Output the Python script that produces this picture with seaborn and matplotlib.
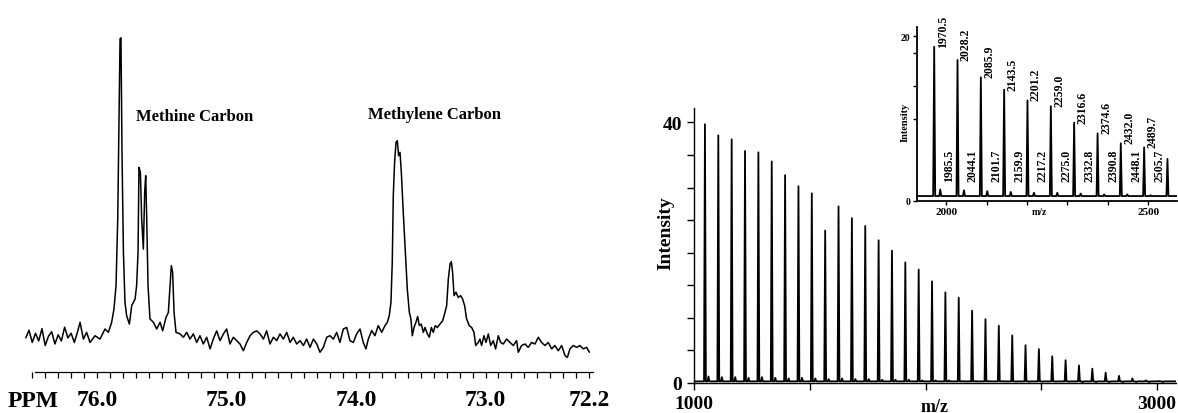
import matplotlib
matplotlib.use("Agg")
import matplotlib.pyplot as plt
import seaborn as sns
import pandas as pd
from matplotlib.ticker import FixedLocator, MultipleLocator

sns.set_style("ticks")
plt.rcParams["font.family"] = ["Liberation Serif", "DejaVu Serif"]
plt.rcParams["font.weight"] = "bold"
plt.rcParams["axes.labelweight"] = "bold"
for k in ["text.color", "axes.labelcolor", "xtick.color", "ytick.color", "axes.edgecolor"]:
    plt.rcParams[k] = "black"

# ---------------- 13C NMR spectrum (ppm, relative intensity) ----------------
nmr_left_baseline = [
    (76.55, 2.0), (76.525, 4.5), (76.50, 0.5), (76.475, 3.5), (76.45, 1.0), (76.425, 5.0),
    (76.40, -0.5), (76.375, 2.5), (76.35, 4.0), (76.325, 0.0), (76.30, 3.0), (76.275, 1.0),
    (76.25, 5.5), (76.225, 2.0), (76.20, 3.5), (76.175, 0.5), (76.15, 4.0),
]
nmr_methine = [
    (76.131, 7.1), (76.105, 1.6), (76.080, 3.8), (76.054, 0.5), (76.015, 2.7), (75.977, 1.6),
    (75.938, 4.9), (75.912, 3.8), (75.887, 7.1), (75.869, 11.4), (75.853, 19.1), (75.840, 40.8),
    (75.830, 73.5), (75.822, 99.7), (75.815, 100.0), (75.807, 62.6), (75.796, 30.0), (75.784, 13.6),
    (75.771, 9.2), (75.750, 6.5), (75.732, 12.5), (75.706, 14.7), (75.694, 19.1), (75.683, 30.0),
    (75.676, 57.7), (75.665, 56.1), (75.655, 40.8), (75.642, 31.0), (75.632, 49.5), (75.624, 55.0),
    (75.616, 40.8), (75.606, 19.1), (75.591, 8.2), (75.565, 7.1), (75.539, 4.9), (75.513, 7.1),
    (75.493, 4.3), (75.467, 8.7), (75.449, 10.3), (75.436, 19.1), (75.426, 25.6), (75.416, 23.4),
    (75.405, 10.3), (75.390, 3.8), (75.359, 3.3),
]
nmr_middle_baseline = [
    (75.333, 2.2), (75.307, 3.8), (75.282, 1.6), (75.256, 3.3), (75.230, 0.5), (75.205, 2.7),
    (75.179, 0.0), (75.153, 2.2), (75.127, -1.6), (75.102, 1.6), (75.076, 4.3), (75.050, 1.1),
    (75.024, 3.3), (74.999, 4.9), (74.973, 0.0), (74.947, 2.2), (74.921, 1.1), (74.896, 0.0),
    (74.870, -2.2), (74.844, 0.5), (74.818, 2.7), (74.793, 3.8), (74.767, 4.3), (74.741, 3.3),
    (74.715, 1.6), (74.690, 4.3), (74.664, 0.0), (74.638, 2.2), (74.612, 1.1), (74.587, 3.3),
    (74.561, 1.6), (74.535, 3.8), (74.509, 0.5), (74.484, 2.2), (74.458, 0.0), (74.432, 1.1),
    (74.406, -0.5), (74.381, 1.6), (74.355, -1.1), (74.329, 1.6), (74.303, 0.0), (74.278, -2.7),
    (74.252, -1.1), (74.226, 2.2), (74.201, 2.7), (74.175, 1.6), (74.149, 3.8), (74.124, 0.5),
    (74.098, 4.9), (74.072, 5.4), (74.047, 1.1), (74.021, 0.5), (73.995, 3.3), (73.969, 4.9),
    (73.944, 0.5), (73.923, -1.6), (73.905, 1.6), (73.879, 4.4), (73.854, 2.7), (73.828, 6.0),
    (73.802, 3.8), (73.776, 6.0),
]
nmr_methylene = [
    (73.758, 7.1), (73.743, 9.3), (73.730, 13.6), (73.720, 26.7), (73.712, 48.5), (73.702, 59.4),
    (73.691, 65.9), (73.681, 66.4), (73.671, 61.5), (73.660, 62.6), (73.650, 56.1), (73.635, 43.0),
    (73.619, 30.0), (73.604, 18.0), (73.588, 10.3), (73.576, 8.2), (73.565, 2.7), (73.552, 5.4),
    (73.537, 7.1), (73.524, 9.0), (73.511, 6.0), (73.496, 6.5), (73.480, 3.8), (73.467, 5.4),
    (73.449, 3.3), (73.434, 2.2), (73.418, 5.4), (73.403, 3.8), (73.388, 6.0), (73.372, 5.4),
    (73.352, 6.5), (73.331, 7.6), (73.313, 10.3), (73.300, 12.5), (73.287, 21.2), (73.274, 26.1),
    (73.264, 26.9), (73.254, 23.4), (73.243, 15.8), (73.228, 16.9), (73.210, 15.2), (73.192, 15.8),
    (73.177, 14.7), (73.161, 12.5), (73.146, 8.2), (73.125, 6.0), (73.107, 5.4), (73.089, 3.8),
]
nmr_right_baseline = [
    (73.076, -0.5), (73.056, 0.5), (73.043, 1.6), (73.030, -0.5), (73.012, 2.7), (72.996, 0.5),
    (72.978, 3.3), (72.960, -0.5), (72.940, 1.1), (72.922, -1.6), (72.901, 2.7), (72.883, 0.5),
    (72.863, 0.0), (72.837, 1.6), (72.811, 0.5), (72.785, -0.5), (72.760, 1.1), (72.747, -2.7),
    (72.721, -0.5), (72.695, 0.0), (72.670, -1.1), (72.644, 0.5), (72.618, 0.0), (72.592, 2.2),
    (72.567, 0.5), (72.541, -0.5), (72.515, 0.5), (72.489, -1.6), (72.464, -0.5), (72.438, -2.2),
    (72.412, -0.5), (72.386, -3.8), (72.368, -4.4), (72.348, -1.6), (72.322, -0.5), (72.296, -1.1),
    (72.271, -0.5), (72.245, -1.6), (72.219, -1.1), (72.198, -2.7),
]
nmr_ticks = [76.0, 75.0, 74.0, 73.0, 72.2]
nmr_tick_labels = ["76.0", "75.0", "74.0", "73.0", "72.2"]
nmr_annotations = [("Methine Carbon", 75.243, 74.5), ("Methylene Carbon", 73.39, 75.2)]

# ---------------- MALDI mass spectrum (m/z, intensity) ----------------
ms_mz = [1047.3, 1105.0, 1162.7, 1220.4, 1278.1, 1335.8, 1393.5, 1451.2, 1508.9, 1566.6,
         1624.3, 1682.0, 1739.7, 1797.4, 1855.1, 1912.8, 1970.5, 2028.2, 2085.9, 2143.5,
         2201.2, 2259.0, 2316.6, 2374.6, 2432.0, 2489.7, 2547.4, 2605.1, 2662.8, 2720.5,
         2778.2, 2835.9, 2893.6, 2951.3, 3009.0]
ms_int = [39.7, 38.0, 37.4, 35.6, 35.4, 34.0, 31.9, 30.2, 29.1, 23.4,
          27.1, 25.3, 24.1, 21.9, 20.3, 18.5, 17.4, 15.6, 13.9, 13.1,
          11.1, 9.8, 8.8, 7.3, 5.8, 5.2, 4.1, 3.5, 2.7, 2.2,
          1.6, 1.1, 0.7, 0.4, 0.3]
ms_sat_mz = [1062.6, 1120.3, 1178.0, 1235.7, 1293.4, 1351.1, 1408.8, 1466.5, 1524.2, 1581.9,
             1639.6, 1697.3, 1755.0, 1812.7, 1870.4, 1928.1, 1985.5, 2044.1, 2101.7, 2159.9,
             2217.2, 2275.0, 2332.8, 2390.8, 2448.1, 2505.7, 2563.4, 2621.1, 2678.8, 2736.5,
             2794.2, 2851.9, 2909.6, 2967.3, 3025.0]
ms_sat_int = [1.0, 0.9, 0.9, 0.8, 0.9, 0.8, 0.7, 0.8, 0.7, 0.6,
              0.7, 0.6, 0.6, 0.5, 0.5, 0.5, 0.4, 0.4, 0.4, 0.3,
              0.3, 0.3, 0.3, 0.2, 0.2, 0.2, 0.2, 0.2, 0.1, 0.1,
              0.1, 0.1, 0.1, 0.1, 0.1]
ms_xticks = [1000, 3000]
ms_xticklabels = ["1000", "3000"]
ms_yticks = [0, 40]

# inset (zoom 1930-2570)
inset_mz = [1970.5, 2028.2, 2085.9, 2143.5, 2201.2, 2259.0, 2316.6, 2374.6, 2432.0, 2489.7, 2547.4]
inset_int = [18.7, 17.1, 15.0, 13.5, 12.2, 11.5, 9.5, 8.2, 7.0, 6.5, 5.1]
inset_labels = ["1970.5", "2028.2", "2085.9", "2143.5", "2201.2", "2259.0",
                "2316.6", "2374.6", "2432.0", "2489.7"]
inset_sat_mz = [1985.5, 2044.1, 2101.7, 2159.9, 2217.2, 2275.0, 2332.8, 2390.8, 2448.1, 2505.7]
inset_sat_int = [1.4, 1.3, 1.2, 1.1, 1.0, 1.0, 0.9, 0.8, 0.8, 0.7]
inset_sat_labels = ["1985.5", "2044.1", "2101.7", "2159.9", "2217.2", "2275.0",
                    "2332.8", "2390.8", "2448.1", "2505.7"]
inset_xticks = [2000, 2500]
inset_yticks = [0, 20]


def stick_table(mz, h, half, base, lo, hi):
    xs, ys = [lo], [base]
    for m, v in sorted(zip(mz, h)):
        xs += [m - half, m, m + half]
        ys += [base, v, base]
    xs.append(hi)
    ys.append(base)
    return pd.DataFrame({"mz": xs, "intensity": ys})


W, H = 1178, 414


def rect(l, t, r, b):
    return [l / W, 1 - b / H, (r - l) / W, (b - t) / H]


fig = plt.figure(figsize=(11.78, 4.14), dpi=100)

# ---------- left: NMR ----------
ax1 = fig.add_axes(rect(25, 30, 597, 373))
trace = nmr_left_baseline + nmr_methine + nmr_middle_baseline + nmr_methylene + nmr_right_baseline
nmr_df = pd.DataFrame(trace, columns=["ppm", "intensity"])
sns.lineplot(data=nmr_df, x="ppm", y="intensity", sort=False, estimator=None,
             color="black", lw=1.1, ax=ax1)
ax1.set_xlim(76.556, 72.139)
ax1.set_ylim(-9.15, 102.9)
for s in ["left", "top", "right"]:
    ax1.spines[s].set_visible(False)
ax1.spines["bottom"].set_bounds(76.479, 72.170)
ax1.spines["bottom"].set_linewidth(0.9)
ax1.set_yticks([])
ax1.set_ylabel("")
ax1.xaxis.set_major_locator(FixedLocator(nmr_ticks))
ax1.set_xticklabels(nmr_tick_labels)
ax1.xaxis.set_minor_locator(MultipleLocator(0.1))
ax1.tick_params(axis="x", which="both", direction="out", length=4, width=0.9)
ax1.tick_params(axis="x", which="major", labelsize=17, pad=8)
ax1.set_xlabel("PPM", fontsize=17)
ax1.xaxis.set_label_coords(0.015, -0.082)
ax1.xaxis.label.set_va("center")
for txt, x, y in nmr_annotations:
    ax1.text(x, y, txt, ha="center", va="center", fontsize=12, fontweight="bold")

# ---------- right: MALDI ----------
ax2 = fig.add_axes(rect(694, 109, 1176, 384))
ms_df = stick_table(ms_mz + ms_sat_mz, ms_int + ms_sat_int, 4.0, 0.25, 1000, 3082)
sns.lineplot(data=ms_df, x="mz", y="intensity", sort=False, estimator=None,
             color="black", lw=1.3, ax=ax2)
ax2.set_xlim(1000, 3082)
ax2.set_ylim(0, 42.2)
for s in ["top", "right"]:
    ax2.spines[s].set_visible(False)
for s in ["left", "bottom"]:
    ax2.spines[s].set_linewidth(1.0)
ax2.xaxis.set_major_locator(FixedLocator(ms_xticks))
ax2.set_xticklabels(ms_xticklabels)
ax2.xaxis.set_minor_locator(MultipleLocator(500))
ax2.yaxis.set_major_locator(FixedLocator(ms_yticks))
ax2.yaxis.set_minor_locator(MultipleLocator(5))
ax2.tick_params(axis="both", which="both", direction="out", length=5, width=1.0)
ax2.tick_params(axis="x", which="major", labelsize=14, pad=4)
ax2.tick_params(axis="y", which="major", labelsize=14, pad=3.5)
ax2.set_xlabel("m/z", fontsize=13)
ax2.xaxis.set_label_coords(0.5, -0.084)
ax2.xaxis.label.set_va("center")
ax2.set_ylabel("Intensity", fontsize=14)
ax2.yaxis.set_label_coords(-0.058, 0.549)
ax2.yaxis.label.set_va("center")

# ---------- inset ----------
ax3 = fig.add_axes(rect(917, 28, 1177, 202))
ax3.set_facecolor("none")
in_df = stick_table(inset_mz + inset_sat_mz, inset_int + inset_sat_int, 2.5, 0.6, 1928, 2571)
sns.lineplot(data=in_df, x="mz", y="intensity", sort=False, estimator=None,
             color="black", lw=1.3, ax=ax3)
ax3.set_xlim(1928, 2571)
ax3.set_ylim(0, 21.1)
for s in ["top", "right"]:
    ax3.spines[s].set_visible(False)
for s in ["left", "bottom"]:
    ax3.spines[s].set_linewidth(1.3)
ax3.xaxis.set_major_locator(FixedLocator(inset_xticks))
ax3.xaxis.set_minor_locator(MultipleLocator(100))
ax3.yaxis.set_major_locator(FixedLocator(inset_yticks))
ax3.yaxis.set_minor_locator(FixedLocator([10, 14, 18]))
ax3.tick_params(axis="both", which="both", direction="out", length=3, width=1.0)
ax3.tick_params(axis="x", which="major", labelsize=8, pad=1.5)
ax3.tick_params(axis="y", which="major", labelsize=7, pad=2)
ax3.set_xlabel("m/z", fontsize=7)
ax3.xaxis.set_label_coords(0.471, -0.063)
ax3.xaxis.label.set_va("center")
ax3.set_ylabel("Intensity", fontsize=7.5)
ax3.yaxis.set_label_coords(-0.046, 0.46)
ax3.yaxis.label.set_va("center")
for m, h, lab in zip(inset_mz, inset_int, inset_labels):
    ax3.annotate(lab, (m, h), xytext=(6.1, 0), textcoords="offset points",
                 rotation=90, ha="center", va="bottom", fontsize=8.5,
                 fontweight="bold", annotation_clip=False)
for m, lab in zip(inset_sat_mz, inset_sat_labels):
    ax3.annotate(lab, (m, 2.4), xytext=(6.5, 0), textcoords="offset points",
                 rotation=90, ha="center", va="bottom", fontsize=8.5,
                 fontweight="bold", annotation_clip=False)

fig.savefig("out.png", dpi=100, facecolor="white")
